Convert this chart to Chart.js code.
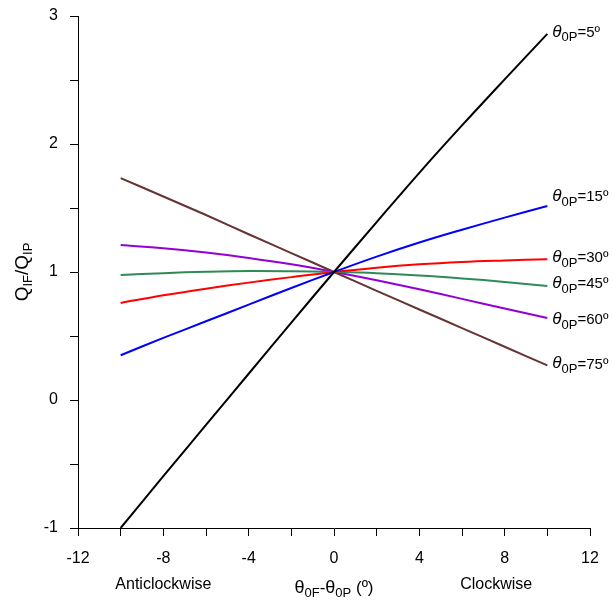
<!DOCTYPE html>
<html>
<head>
<meta charset="utf-8">
<script src="https://cdn.jsdelivr.net/npm/chart.js@4.4.1/dist/chart.umd.min.js"></script>
<style>
  html, body { margin: 0; padding: 0; background: #fff; }
  #wrap { width: 613px; height: 604px; }
</style>
</head>
<body>
<div id="wrap"><canvas id="chart" width="613" height="604"></canvas></div>
<script>
// deviation angle theta0F - theta0P (deg)
var xValues = [-10, -8, -6, -4, -2, 0, 2, 4, 6, 8, 10];

var angleLabels = ['5º', '15º', '30º', '45º', '60º', '75º'];
var q5  = [-1, -0.595, -0.195, 0.205, 0.605, 1, 1.39, 1.775, 2.145, 2.505, 2.86];
var q15 = [0.35, 0.485, 0.615, 0.745, 0.875, 1, 1.12, 1.23, 1.33, 1.425, 1.515];
var q30 = [0.758, 0.818, 0.87, 0.917, 0.96, 1, 1.034, 1.06, 1.078, 1.09, 1.10];
var q45 = [0.977, 0.991, 1.002, 1.008, 1.006, 1, 0.99, 0.973, 0.95, 0.922, 0.89];
var q60 = [1.21, 1.185, 1.152, 1.11, 1.06, 1, 0.935, 0.865, 0.79, 0.715, 0.64];
var q75 = [1.734, 1.59, 1.445, 1.295, 1.148, 1, 0.853, 0.707, 0.562, 0.416, 0.27];

var xTicks = [-12, -8, -4, 0, 4, 8, 12];
var yTicks = [-1, 0, 1, 2, 3];

var series = [q5, q15, q30, q45, q60, q75];
var colors = ['#000000', '#0000ff', '#ff0000', '#2e8b57', '#9400d3', '#663333'];
var labelShift = [0, -8, 0, -1, 3, 0];

function pts(arr) {
  return arr.map(function(v, i) { return {x: xValues[i], y: v}; });
}

var datasets = series.map(function(s, i) {
  return {
    label: angleLabels[i],
    data: pts(s),
    borderColor: colors[i],
    borderWidth: 2,
    pointRadius: 0,
    fill: false,
    tension: 0.4
  };
});

// draws pieces of text one after another (for subscripts)
function richText(ctx, parts, x, y, align) {
  var total = 0;
  parts.forEach(function(p) { ctx.font = p.font; total += ctx.measureText(p.t).width; });
  var cx = align === 'center' ? x - total / 2 : x;
  parts.forEach(function(p) {
    ctx.font = p.font;
    ctx.fillText(p.t, cx, y + (p.dy || 0));
    cx += ctx.measureText(p.t).width;
  });
}

var fam = "'Liberation Sans', Arial, sans-serif";

var textPlugin = {
  id: 'texts',
  afterDraw: function(chart) {
    var ctx = chart.ctx;
    var xs = chart.scales.x, ys = chart.scales.y;
    ctx.save();
    ctx.fillStyle = '#000';
    ctx.textBaseline = 'middle';
    ctx.textAlign = 'left';
    series.forEach(function(s, i) {
      var px = xs.getPixelForValue(xValues[xValues.length - 1]) + 5;
      var py = ys.getPixelForValue(s[s.length - 1]) + labelShift[i];
      richText(ctx, [
        {t: 'θ', font: 'italic 17px ' + fam, dy: -2},
        {t: '0P', font: '13px ' + fam, dy: 4},
        {t: '=' + angleLabels[i], font: '15px ' + fam, dy: -1}
      ], px, py, 'left');
    });

    ctx.textBaseline = 'alphabetic';
    ctx.textAlign = 'left';
    var cx = (xs.left + xs.right) / 2;
    richText(ctx, [
      {t: 'θ', font: '18px ' + fam},
      {t: '0F', font: '13px ' + fam, dy: 4},
      {t: '-', font: '17px ' + fam},
      {t: 'θ', font: '18px ' + fam},
      {t: '0P', font: '13px ' + fam, dy: 4},
      {t: ' (º)', font: '17px ' + fam}
    ], cx, 593, 'center');
    ctx.font = '16px ' + fam;
    ctx.textAlign = 'center';
    ctx.fillText('Anticlockwise', xs.getPixelForValue(-8.0), 589);
    ctx.fillText('Clockwise', xs.getPixelForValue(7.6), 589);

    ctx.translate(28, (ys.top + ys.bottom) / 2);
    ctx.rotate(-Math.PI / 2);
    ctx.textAlign = 'left';
    richText(ctx, [
      {t: 'Q', font: '19px ' + fam},
      {t: 'IF', font: '13px ' + fam, dy: 4},
      {t: '/Q', font: '19px ' + fam},
      {t: 'IP', font: '13px ' + fam, dy: 4}
    ], 0, 0, 'center');
    ctx.restore();
  }
};

new Chart(document.getElementById('chart'), {
  type: 'line',
  data: { datasets: datasets },
  options: {
    responsive: false,
    animation: false,
    layout: { padding: { top: 16, right: 23, left: 0, bottom: 0 } },
    plugins: { legend: { display: false }, tooltip: { enabled: false } },
    scales: {
      x: {
        type: 'linear',
        min: -12, max: 12,
        afterFit: function(s) { s.height = 76; s.paddingLeft = 0; s.paddingRight = 0; },
        border: { color: '#000', width: 1 },
        grid: { drawOnChartArea: false, tickLength: 8, color: '#000' },
        ticks: {
          stepSize: 2, padding: 13, color: '#000', maxRotation: 0,
          font: { family: fam, size: 16 },
          callback: function(v) { return xTicks.indexOf(v) >= 0 ? String(v) : ''; }
        }
      },
      y: {
        min: -1, max: 3,
        afterFit: function(s) { s.width = 78; s.paddingTop = 0; s.paddingBottom = 0; },
        border: { color: '#000', width: 1 },
        grid: { drawOnChartArea: false, tickLength: 8, color: '#000' },
        ticks: {
          stepSize: 0.5, padding: 12, color: '#000',
          font: { family: fam, size: 16 },
          callback: function(v) { return yTicks.indexOf(v) >= 0 ? String(v) : ''; }
        }
      }
    }
  },
  plugins: [textPlugin]
});
</script>
</body>
</html>
